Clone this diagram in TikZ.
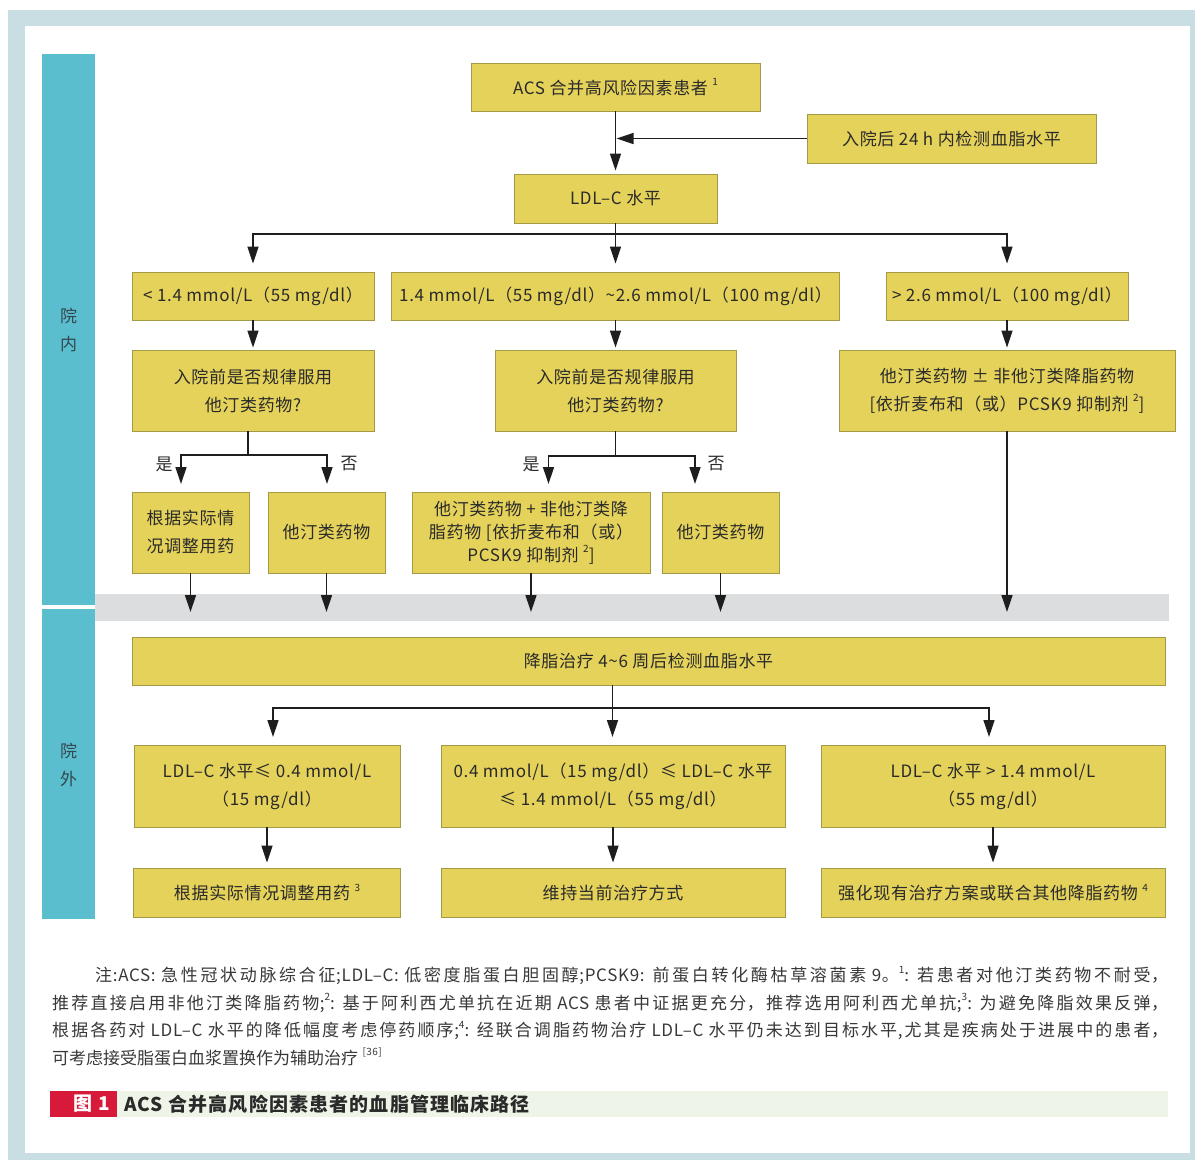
\documentclass[tikz,border=0pt]{standalone}
\usepackage{fontspec}
\setmainfont{Noto Sans CJK SC}[LetterSpace=4]
\newfontfamily\capfont{Noto Sans CJK SC}[LetterSpace=6]
\usetikzlibrary{arrows.meta,calc}
\XeTeXlinebreaklocale "zh"
\XeTeXlinebreakskip=0pt plus 1pt
\definecolor{framec}{HTML}{C9DEE2}
\definecolor{tealc}{HTML}{5BBECF}
\definecolor{bandc}{HTML}{DCDDDF}
\definecolor{boxfill}{HTML}{E5D25A}
\definecolor{boxline}{HTML}{A39A45}
\definecolor{boxtxt}{HTML}{2A2A2A}
\definecolor{arrc}{HTML}{1E1E1E}
\definecolor{foot}{HTML}{383838}
\definecolor{capred}{HTML}{D7193A}
\definecolor{capgreen}{HTML}{EEF4E7}
\definecolor{sidetxt}{HTML}{33474F}
\newcommand\supnum[1]{\raisebox{0.5em}{\fontsize{10}{10}\selectfont #1}}
\begin{document}
\begin{tikzpicture}[x=1pt,y=-1pt,
  box/.style={draw=boxline, fill=boxfill, line width=0.9pt, inner sep=0pt, align=center, text=boxtxt, font=\fontsize{17}{28}\selectfont},
  arr/.style={draw=arrc, line width=1.3pt, -{Triangle[length=17pt,width=11pt]}},
  ln/.style={draw=arrc, line width=1.3pt},
  lbl/.style={font=\fontsize{17}{20}\selectfont, text=boxtxt, inner sep=0pt},
  side/.style={font=\fontsize{17}{28}\selectfont, text=sidetxt, align=center, inner sep=0pt}]
\useasboundingbox (0,0) rectangle (1195,1160);
% frame
\fill[framec] (8,10) rectangle (1195,1160);
\fill[white] (25,26) rectangle (1190,1153);
% side bars and band
\fill[tealc] (42,54) rectangle (95,604.5);
\fill[tealc] (42,609) rectangle (95,919);
\fill[bandc] (95,594) rectangle (1169,621);
\node[side] (inside) at (68.5,330) {院\\内};
\node[side] (outside) at (68.5,764.5) {院\\外};

% boxes
\node[box, minimum width=289pt, minimum height=48pt] (acs) at (615.5,87) {ACS 合并高风险因素患者 \supnum{1}};
\node[box, minimum width=289pt, minimum height=49pt] (chk) at (951.5,138.5) {入院后 24 h 内检测血脂水平};
\node[box, minimum width=203pt, minimum height=49pt] (ldl) at (615.5,198.5) {LDL–C 水平};
\node[box, minimum width=242pt, minimum height=48pt] (r1) at (253,296) {< 1.4 mmol/L（55 mg/dl）};
\node[box, minimum width=448pt, minimum height=48pt] (r2) at (615.5,296) {1.4 mmol/L（55 mg/dl）\textasciitilde 2.6 mmol/L（100 mg/dl）};
\node[box, minimum width=242pt, minimum height=48pt] (r3) at (1007,296) {> 2.6 mmol/L（100 mg/dl）};
\node[box, minimum width=242pt, minimum height=81pt] (q1) at (253,390.5) {入院前是否规律服用\\他汀类药物?};
\node[box, minimum width=241pt, minimum height=81pt] (q2) at (615.5,390.5) {入院前是否规律服用\\他汀类药物?};
\node[box, minimum width=336pt, minimum height=81pt] (t3) at (1007,390.5) {他汀类药物 ± 非他汀类降脂药物\\{[}依折麦布和（或）PCSK9 抑制剂 \supnum{2}{]}};
\node[box, minimum width=117pt, minimum height=81pt] (a1) at (190.5,532.5) {根据实际情\\况调整用药};
\node[box, minimum width=117pt, minimum height=81pt] (a2) at (326.5,532.5) {他汀类药物};
\node[box, minimum width=238pt, minimum height=81pt, font=\fontsize{17}{23}\selectfont] (a3) at (531,532.5) {他汀类药物 + 非他汀类降\\脂药物 {[}依折麦布和（或）\\PCSK9 抑制剂 \supnum{2}{]}};
\node[box, minimum width=117pt, minimum height=81pt] (a4) at (720.5,532.5) {他汀类药物};
\node[box, minimum width=1033pt, minimum height=48pt] (follow) at (648.5,661) {降脂治疗 4\textasciitilde 6 周后检测血脂水平};
\node[box, minimum width=266pt, minimum height=82pt] (c1) at (267,786) {LDL–C 水平≤ 0.4 mmol/L\\（15 mg/dl）};
\node[box, minimum width=344pt, minimum height=82pt] (c2) at (613,786) {0.4 mmol/L（15 mg/dl）≤ LDL–C 水平\\≤ 1.4 mmol/L（55 mg/dl）};
\node[box, minimum width=344pt, minimum height=82pt] (c3) at (993,786) {LDL–C 水平 > 1.4 mmol/L\\（55 mg/dl）};
\node[box, minimum width=267pt, minimum height=49pt] (d1) at (267,892.5) {根据实际情况调整用药 \supnum{3}};
\node[box, minimum width=344pt, minimum height=49pt] (d2) at (613,892.5) {维持当前治疗方式};
\node[box, minimum width=344pt, minimum height=49pt] (d3) at (993,892.5) {强化现有治疗方案或联合其他降脂药物 \supnum{4}};

% connectors top
\draw[arr,shorten >=3pt] (acs) -- (ldl);
\draw[arr,shorten >=1pt] (chk.west) -- (chk.west -| acs.south);
\coordinate (bus1) at (615.5,234);
\draw[arr,shorten >=8pt] (ldl.south) -- (bus1) -| (r1.north);
\draw[arr,shorten >=8pt] (bus1) -- (r2.north);
\draw[arr,shorten >=8pt] (bus1) -| (r3.north);
\draw[arr,shorten >=2pt] (r1) -- (q1);
\draw[arr,shorten >=2pt] (r2) -- (q2);
\draw[arr,shorten >=2pt] (r3) -- (t3);
% branches
\coordinate (s1) at (248,455);
\coordinate (y1) at (181,484);
\coordinate (n1) at (327,484);
\draw[ln] (q1.south -| s1) -- (s1);
\draw[arr] (s1) -| (y1);
\draw[arr] (s1) -| (n1);
\node[lbl] (yes1) at (164,464) {是};
\node[lbl] (no1) at (349,464) {否};
\coordinate (s2) at (615.5,456);
\coordinate (y2) at (548.5,484);
\coordinate (n2) at (695,484);
\draw[ln] (q2.south) -- (s2);
\draw[arr] (s2) -| (y2);
\draw[arr] (s2) -| (n2);
\node[lbl] (yes2) at (531,464) {是};
\node[lbl] (no2) at (716,464) {否};
% into band
\coordinate (band) at (0,612);
\draw[arr] (a1.south) -- (a1.south |- band);
\draw[arr] (a2.south) -- (a2.south |- band);
\draw[arr] (a3.south) -- (a3.south |- band);
\draw[arr] (a4.south) -- (a4.south |- band);
\draw[arr] (t3.south) -- (t3.south |- band);
% outpatient
\coordinate (s3) at (612.5,708);
\coordinate (k1) at (273,737);
\coordinate (k2) at (612.5,737);
\coordinate (k3) at (989,737);
\draw[ln] (follow.south -| s3) -- (s3);
\draw[arr] (s3) -| (k1);
\draw[arr] (s3) -- (k2);
\draw[arr] (s3) -| (k3);
\draw[arr,shorten >=5pt] (c1) -- (d1);
\draw[arr,shorten >=5pt] (c2) -- (d2);
\draw[arr,shorten >=5pt] (c3) -- (d3);

% footnote
\node[anchor=north west, text width=1116pt, align=justify, inner sep=0pt, font=\fontsize{17}{27.5}\selectfont, text=foot] (note) at (52,966) {\XeTeXlinebreakskip=0pt plus 6pt\relax\hspace*{43pt}注:ACS: 急性冠状动脉综合征;LDL–C: 低密度脂蛋白胆固醇;PCSK9: 前蛋白转化酶枯草溶菌素 9。\supnum{1}: 若患者对他汀类药物不耐受，\linebreak 推荐直接启用非他汀类降脂药物;\supnum{2}: 基于阿利西尤单抗在近期 ACS 患者中证据更充分，推荐选用阿利西尤单抗;\supnum{3}: 为避免降脂效果反弹，\linebreak 根据各药对 LDL–C 水平的降低幅度考虑停药顺序;\supnum{4}: 经联合调脂药物治疗 LDL–C 水平仍未达到目标水平,尤其是疾病处于进展中的患者，\linebreak 可考虑接受脂蛋白血浆置换作为辅助治疗 \supnum{[36]}};

% caption
\fill[capred] (50,1091) rectangle (116.7,1116.7);
\fill[capgreen] (116.7,1091) rectangle (1168,1116.7);
\node[font=\capfont\bfseries\fontsize{19}{19}\selectfont, text=white, inner sep=0pt] (fig) at (92,1104) {图 1};
\node[anchor=west, font=\capfont\bfseries\fontsize{19}{19}\selectfont, text=boxtxt, inner sep=0pt] (captitle) at (124,1104) {ACS 合并高风险因素患者的血脂管理临床路径};
\end{tikzpicture}
\end{document}
